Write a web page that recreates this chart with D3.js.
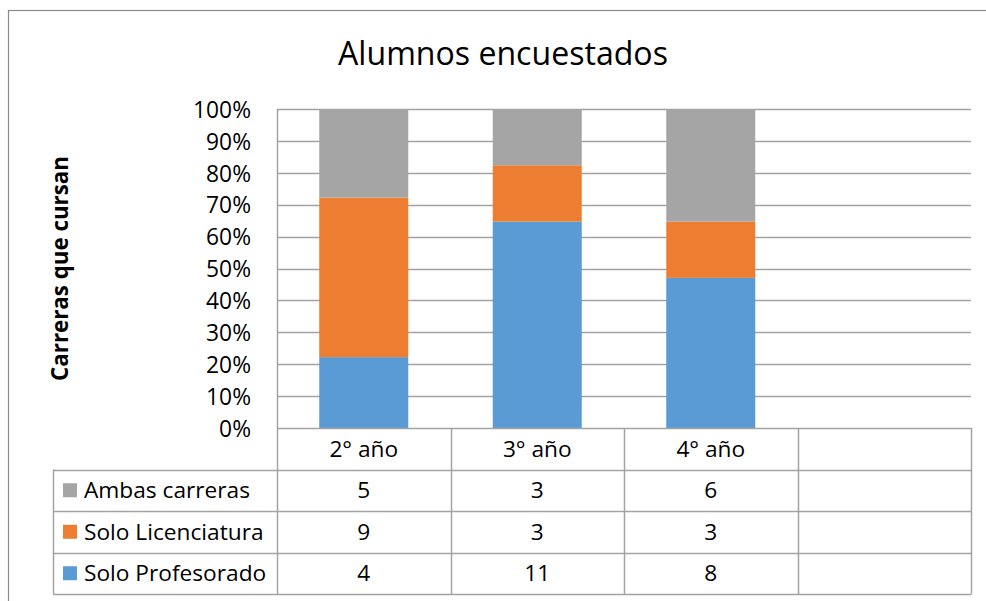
<!DOCTYPE html>
<html>
<head>
<meta charset="utf-8">
<script src="https://cdn.jsdelivr.net/npm/d3@7"></script>
<style>
  html, body { margin: 0; padding: 0; background: #fff; }
  svg { display: block; }
  text { font-family: "Open Sans", "Noto Sans", sans-serif; fill: #000; }
</style>
</head>
<body>
<svg id="chart" width="986" height="601"></svg>
<script>
const title = "Alumnos encuestados";
const yAxisTitle = "Carreras que cursan";
const categories = ["2° año", "3° año", "4° año", ""];
const seriesNames = ["Ambas carreras", "Solo Licenciatura", "Solo Profesorado"];
const ambas = [5, 3, 6, null];
const licenciatura = [9, 3, 3, null];
const profesorado = [4, 11, 8, null];
const seriesColors = ["#A5A5A5", "#ED7D31", "#5B9BD5"];
const yTicks = [0, 0.1, 0.2, 0.3, 0.4, 0.5, 0.6, 0.7, 0.8, 0.9, 1.0];

const svg = d3.select("#chart");
const gridColor = "#a3a3a3";

const plot = { left: 277, right: 971, top: 109, bottom: 428 };
const tableLeft = 53;
const rowH = 41.5;
const tableFont = "22.7px";

// outer chart border
svg.append("rect").attr("x", 8.5).attr("y", 10.5).attr("width", 1000).attr("height", 640)
  .attr("fill", "#fff").attr("stroke", "#8a8a8a").attr("stroke-width", 1.2);

// title
svg.append("text").attr("x", 503).attr("y", 65).attr("text-anchor", "middle")
  .style("font-size", "32.1px").text(title);

const x = d3.scaleBand().domain(categories.map((c, i) => i)).range([plot.left, plot.right]).padding(0);
const y = d3.scaleLinear().domain([0, 1]).range([plot.bottom, plot.top]);

// gridlines
svg.append("g").selectAll("line").data(yTicks.filter(t => t > 0)).join("line")
  .attr("x1", plot.left).attr("x2", plot.right)
  .attr("y1", d => Math.round(y(d)) + 0.5).attr("y2", d => Math.round(y(d)) + 0.5)
  .attr("stroke", gridColor).attr("stroke-width", 1.3);

// y tick labels
const yAxis = d3.axisLeft(y).tickValues(yTicks).tickFormat(d3.format(".0%")).tickSize(0).tickPadding(0);
const yg = svg.append("g").attr("transform", `translate(251,0)`).call(yAxis);
yg.select(".domain").remove();
yg.selectAll("text").style("font-size", "22.8px").style("font-family", "'Open Sans', sans-serif").attr("dy", "0.36em");

// stacked data
const rows = categories.map((c, i) => {
  const tot = (ambas[i] || 0) + (licenciatura[i] || 0) + (profesorado[i] || 0);
  return {
    i,
    prof: tot ? profesorado[i] / tot : 0,
    lic: tot ? licenciatura[i] / tot : 0,
    amb: tot ? ambas[i] / tot : 0
  };
});
const stack = d3.stack().keys(["prof", "lic", "amb"]);
const stacked = stack(rows);
const stackColors = { prof: seriesColors[2], lic: seriesColors[1], amb: seriesColors[0] };

const barW = x.bandwidth() * 0.513;
svg.append("g").selectAll("g").data(stacked).join("g")
  .attr("fill", d => stackColors[d.key])
  .selectAll("rect").data(d => d.filter(v => v[1] > v[0])).join("rect")
  .attr("x", d => x(d.data.i) + (x.bandwidth() - barW) / 2)
  .attr("width", barW)
  .attr("y", d => y(d[1]))
  .attr("height", d => y(d[0]) - y(d[1]));

// table
const tg = svg.append("g");
const rowTops = [plot.bottom, plot.bottom + rowH, plot.bottom + 2 * rowH, plot.bottom + 3 * rowH, plot.bottom + 4 * rowH];
tg.append("line").attr("x1", plot.left + 0.5).attr("x2", plot.left + 0.5)
  .attr("y1", plot.top).attr("y2", rowTops[4]).attr("stroke", gridColor).attr("stroke-width", 1.5);
rowTops.forEach((yy, k) => {
  tg.append("line").attr("x1", k === 0 ? plot.left : tableLeft).attr("x2", plot.right + 0.5)
    .attr("y1", Math.round(yy) + 0.5).attr("y2", Math.round(yy) + 0.5)
    .attr("stroke", gridColor).attr("stroke-width", 1.5);
});
categories.forEach((c, i) => {
  const xx = x(i) + x.bandwidth();
  tg.append("line").attr("x1", Math.round(xx) + 0.5).attr("x2", Math.round(xx) + 0.5)
    .attr("y1", plot.bottom).attr("y2", rowTops[4]).attr("stroke", gridColor).attr("stroke-width", 1.5);
});
tg.append("line").attr("x1", tableLeft + 0.5).attr("x2", tableLeft + 0.5)
  .attr("y1", rowTops[1]).attr("y2", rowTops[4]).attr("stroke", gridColor).attr("stroke-width", 1.5);

// category labels
tg.selectAll("text.cat").data(categories).join("text").attr("class", "cat")
  .attr("x", (d, i) => x(i) + x.bandwidth() / 2)
  .attr("y", (rowTops[0] + rowTops[1]) / 2).attr("dy", "0.36em")
  .attr("text-anchor", "middle").style("font-size", tableFont).text(d => d);

// series rows
const seriesValues = [ambas, licenciatura, profesorado];
seriesNames.forEach((name, r) => {
  const cy = (rowTops[r + 1] + rowTops[r + 2]) / 2;
  tg.append("rect").attr("x", 63).attr("y", cy - 7).attr("width", 14).attr("height", 14)
    .attr("fill", seriesColors[r]);
  tg.append("text").attr("x", 84).attr("y", cy).attr("dy", "0.36em")
    .style("font-size", tableFont).text(name);
  seriesValues[r].forEach((v, i) => {
    if (v == null) return;
    tg.append("text").attr("x", x(i) + x.bandwidth() / 2).attr("y", cy).attr("dy", "0.36em")
      .attr("text-anchor", "middle").style("font-size", tableFont).text(v);
  });
});

// y axis title
svg.append("text").attr("transform", `translate(68,${(plot.top + plot.bottom) / 2}) rotate(-90)`)
  .attr("text-anchor", "middle").style("font-size", "22.3px").style("font-weight", "bold")
  .text(yAxisTitle);
</script>
</body>
</html>
